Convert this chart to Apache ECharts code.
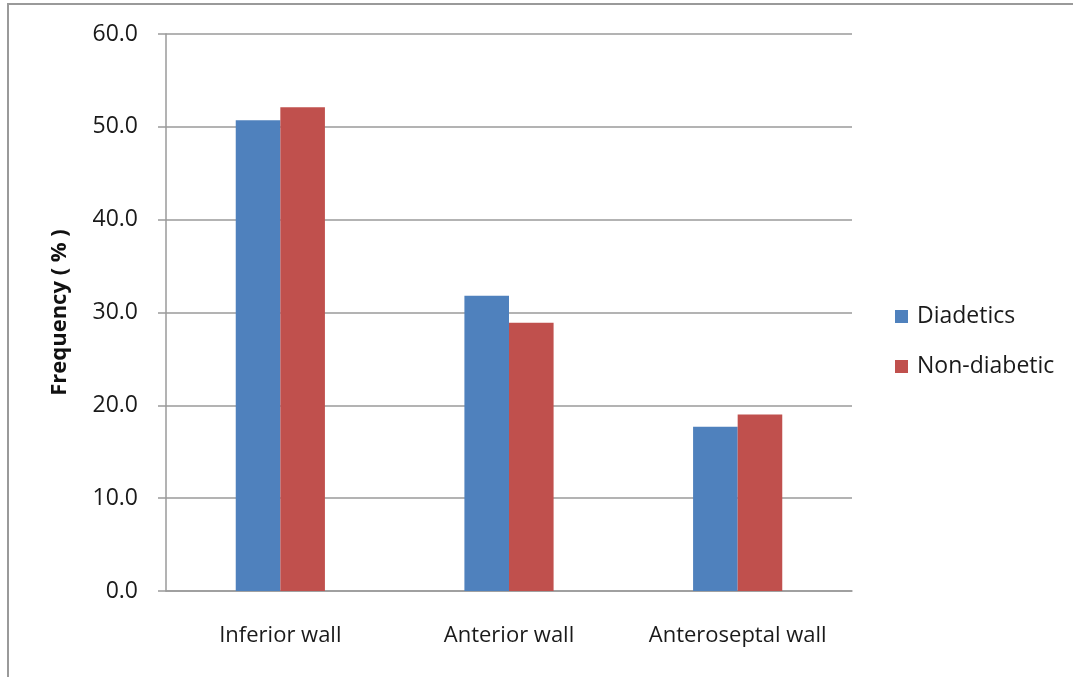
<!DOCTYPE html>
<html>
<head>
<meta charset="utf-8">
<script src="https://cdn.jsdelivr.net/npm/echarts@6/dist/echarts.min.js"></script>
<style>
  html, body { margin: 0; padding: 0; background: #fff; }
  #chart { width: 1073px; height: 677px; position: relative; }
  #frame { position: absolute; left: 7px; top: 3px; right: 0; bottom: 0;
           border-left: 2px solid #9a9a9a; border-top: 2px solid #9a9a9a; pointer-events: none; }
</style>
</head>
<body>
<div id="chart"></div>
<div id="frame"></div>
<script>
const categories = ['Inferior wall', 'Anterior wall', 'Anteroseptal wall'];
const diadetics = [50.7, 31.8, 17.7];
const nonDiabetic = [52.1, 28.9, 19.0];
const seriesNames = ['Diadetics', 'Non-diabetic'];

const chart = echarts.init(document.getElementById('chart'));
const font = '"Open Sans", sans-serif';

chart.setOption({
  animation: false,
  backgroundColor: '#ffffff',
  grid: { left: 166, right: 221, top: 34, bottom: 86 },
  legend: {
    orient: 'vertical',
    left: 895,
    top: 305,
    padding: 0,
    itemWidth: 13,
    itemHeight: 13,
    itemGap: 27,
    icon: 'rect',
    textStyle: { fontFamily: font, fontSize: 23, color: '#1a1a1a', padding: [0, 0, 0, 4] },
    data: seriesNames
  },
  xAxis: {
    type: 'category',
    data: categories,
    axisLine: { lineStyle: { color: '#9a9a9a', width: 1.5 } },
    axisTick: { show: false },
    axisLabel: {
      interval: 0, hideOverlap: false,
      fontFamily: font, fontSize: 22, color: '#1a1a1a', margin: 34
    }
  },
  yAxis: {
    type: 'value',
    min: 0,
    max: 60,
    interval: 10,
    name: 'Frequency ( % )',
    nameLocation: 'middle',
    nameGap: 95,
    nameTextStyle: { fontFamily: font, fontSize: 22, fontWeight: 'bold', color: '#111' },
    axisLine: { show: true, lineStyle: { color: '#9a9a9a', width: 1.5 } },
    axisTick: { show: true, length: 8, lineStyle: { color: '#9a9a9a', width: 1.5 } },
    axisLabel: {
      fontFamily: font, fontSize: 23, color: '#1a1a1a', margin: 28,
      formatter: v => v.toFixed(1)
    },
    splitLine: { lineStyle: { color: '#9a9a9a', width: 1.5 } }
  },
  series: [
    {
      name: seriesNames[0], type: 'bar', data: diadetics,
      itemStyle: { color: '#4F81BD' },
      barGap: '0%', barCategoryGap: '61%'
    },
    {
      name: seriesNames[1], type: 'bar', data: nonDiabetic,
      itemStyle: { color: '#C0504D' },
      barGap: '0%', barCategoryGap: '61%'
    }
  ]
});
</script>
</body>
</html>
